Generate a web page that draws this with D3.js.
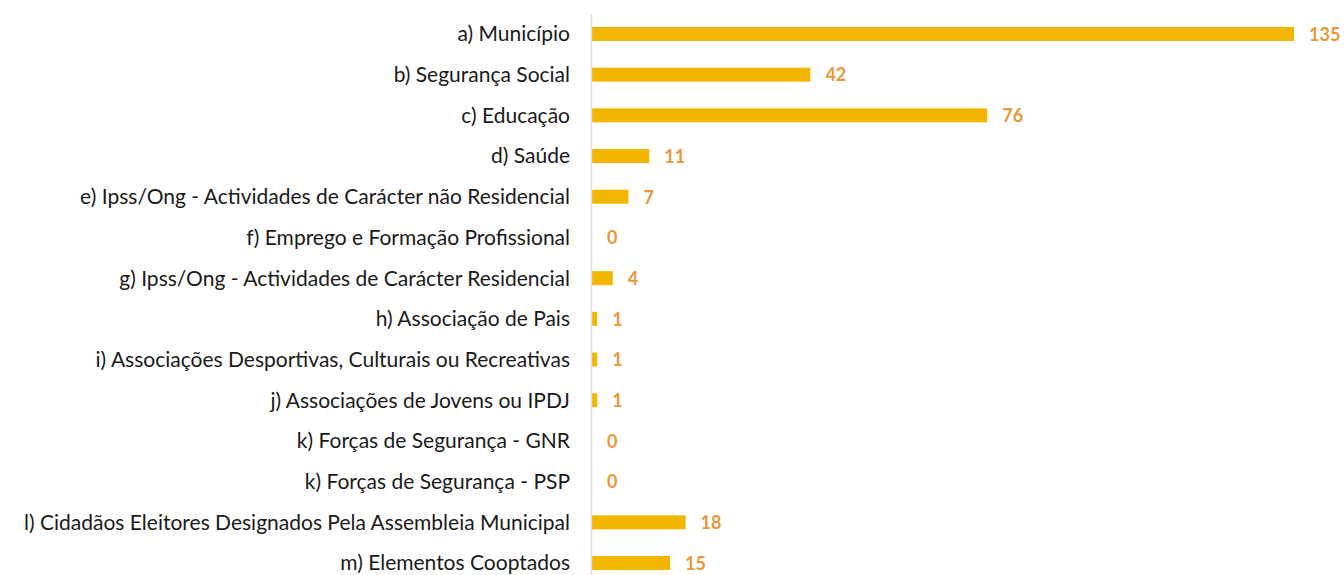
<!DOCTYPE html>
<html>
<head>
<meta charset="utf-8">
<script src="https://cdn.jsdelivr.net/npm/d3@7"></script>
<style>
  html, body { margin: 0; padding: 0; background: #fff; }
  svg { display: block; }
</style>
</head>
<body>
<svg id="chart" width="1344" height="575"></svg>
<script>
const categories = [
  "a) Município",
  "b) Segurança Social",
  "c) Educação",
  "d) Saúde",
  "e) Ipss/Ong - Actividades de Carácter não Residencial",
  "f) Emprego e Formação Profissional",
  "g) Ipss/Ong - Actividades de Carácter Residencial",
  "h) Associação de Pais",
  "i) Associações Desportivas, Culturais ou Recreativas",
  "j) Associações de Jovens ou IPDJ",
  "k) Forças de Segurança - GNR",
  "k) Forças de Segurança - PSP",
  "l) Cidadãos Eleitores Designados Pela Assembleia Municipal",
  "m) Elementos Cooptados"
];
const values = [135, 42, 76, 11, 7, 0, 4, 1, 1, 1, 0, 0, 18, 15];

const svg = d3.select("#chart");
const x = d3.scaleLinear().domain([0, 135]).range([592, 1294]);
const y = d3.scaleBand().domain(categories).range([13.6, 583.4])
  .paddingInner(0.656).paddingOuter(0.328);

// bars
svg.append("g").selectAll("rect").data(values).join("rect")
  .attr("x", x(0))
  .attr("y", (d, i) => y(categories[i]))
  .attr("width", d => x(d) - x(0))
  .attr("height", y.bandwidth())
  .attr("fill", "#F2B600");

// vertical category axis line
svg.append("line")
  .attr("x1", x(0) - 0.5).attr("x2", x(0) - 0.5)
  .attr("y1", 14).attr("y2", 575)
  .attr("stroke", "#d9d9d9").attr("stroke-width", 1.5);

// category labels
svg.append("g").selectAll("text").data(categories).join("text")
  .attr("x", 570)
  .attr("y", d => y(d) + y.bandwidth() / 2)
  .attr("dy", "0.35em")
  .attr("text-anchor", "end")
  .attr("font-family", "Lato, 'Open Sans', sans-serif")
  .attr("font-size", 21)
  .attr("fill", "#1a1a1a")
  .text(d => d);

// value labels
svg.append("g").selectAll("text").data(values).join("text")
  .attr("x", d => x(d) + 15)
  .attr("y", (d, i) => y(categories[i]) + y.bandwidth() / 2)
  .attr("dy", "0.38em")
  .attr("font-family", "Lato, 'Open Sans', sans-serif")
  .attr("font-weight", "bold")
  .attr("font-size", 18)
  .attr("fill", "#E8973A")
  .text(d => d);
</script>
</body>
</html>
